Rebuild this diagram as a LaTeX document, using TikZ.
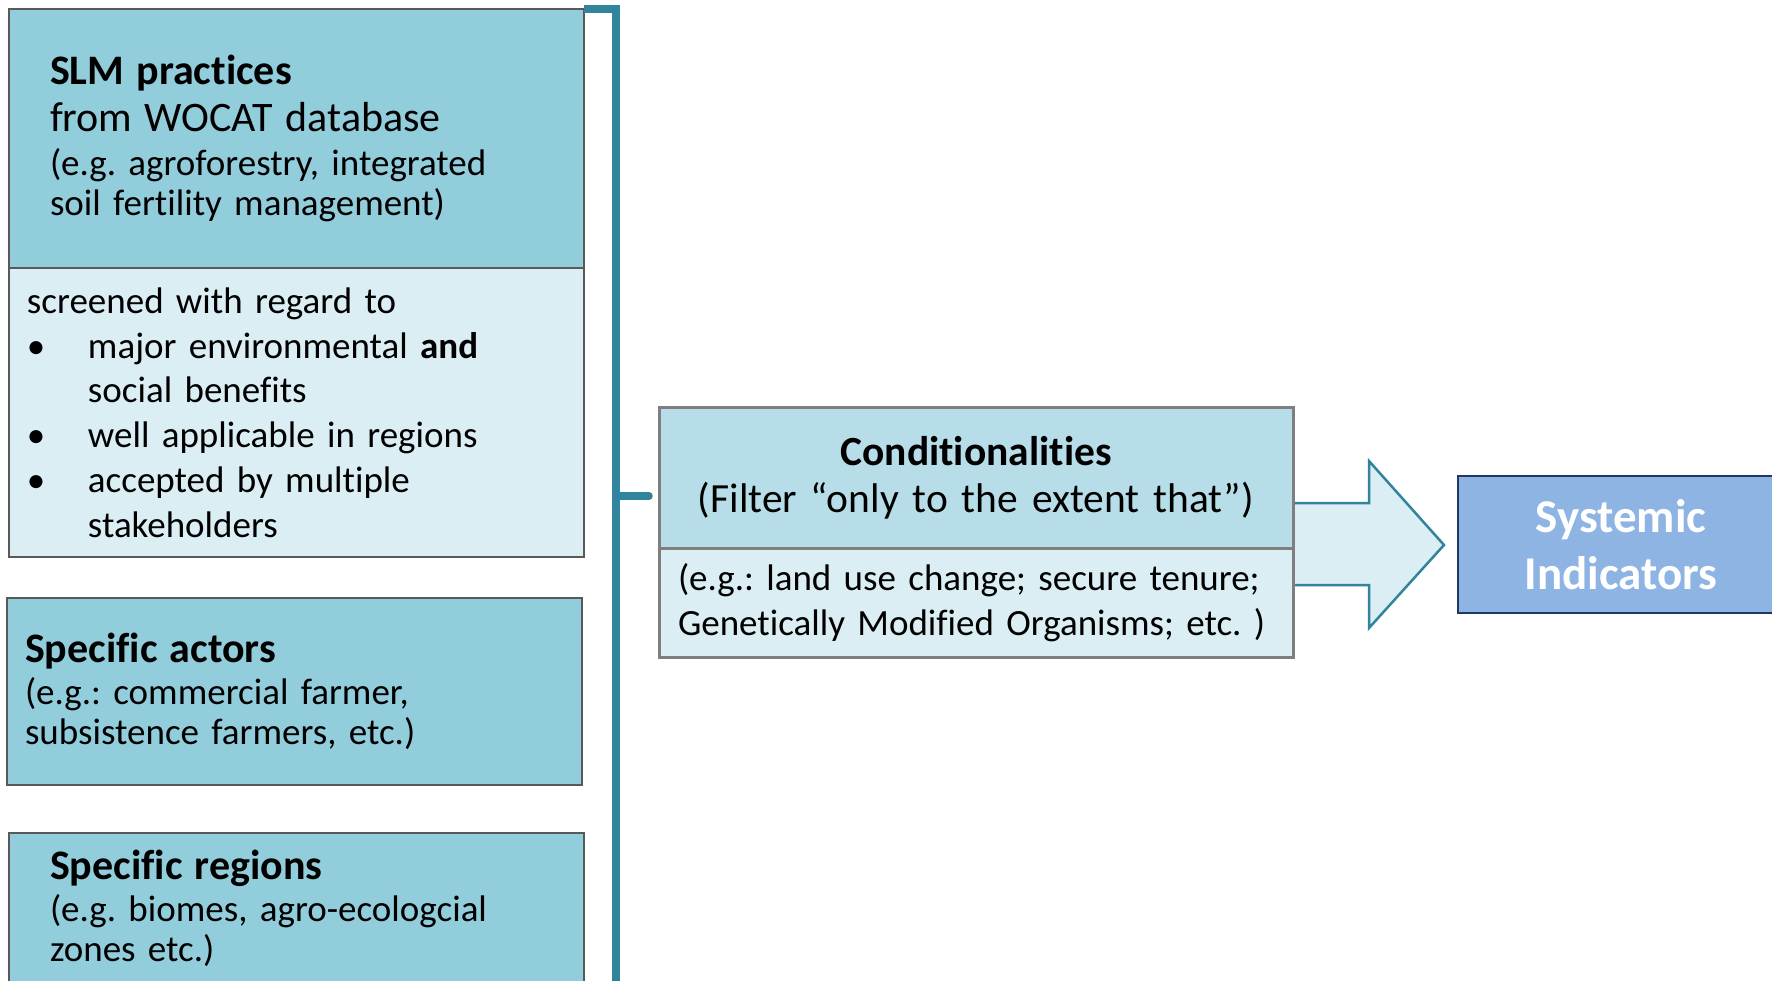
\documentclass[tikz,border=0pt]{standalone}
\usepackage{fontspec}
\setmainfont{Carlito}[Ligatures=NoCommon]
\usetikzlibrary{positioning}
\definecolor{slmblue}{RGB}{146,205,220}
\definecolor{paleblue}{RGB}{218,238,243}
\definecolor{condblue}{RGB}{183,222,232}
\definecolor{sysblue}{RGB}{142,180,227}
\definecolor{sysborder}{RGB}{31,56,100}
\definecolor{slmgray}{RGB}{89,89,89}
\definecolor{condgray}{RGB}{127,127,127}
\definecolor{teal}{RGB}{49,132,155}
\frenchspacing

\begin{document}
\begin{tikzpicture}[x=1pt, y=-1pt,
        headbox/.style={rectangle, draw=slmgray, fill=slmblue, line width=2.5pt, outer sep=0pt, minimum width=575pt, text width=493pt, inner xsep=41pt, align=left, font=\fontsize{37}{40}\selectfont},
        actorbox/.style={headbox, text width=539pt, inner xsep=18pt},
        listbox/.style={rectangle, draw=slmgray, fill=paleblue, line width=2.5pt, outer sep=0pt, minimum width=575pt, text width=539pt, inner xsep=18pt, align=left, font=\fontsize{37}{44.8}\selectfont},
        condbox/.style={rectangle, draw=condgray, fill=condblue, line width=3pt, outer sep=0pt, minimum width=634pt, text width=600pt, inner xsep=17pt, align=center, font=\fontsize{41.5}{47}\selectfont},
        examplebox/.style={condbox, fill=paleblue, text width=596pt, inner xsep=19pt, align=left, font=\fontsize{37}{45}\selectfont},
        sysbox/.style={rectangle, draw=sysborder, fill=sysblue, line width=2pt, outer sep=0pt, minimum width=326pt, text width=300pt, align=center, text=white, font=\fontsize{47}{57}\selectfont\bfseries},
        bracketline/.style={draw=teal, line width=7.5pt},
        filterarrow/.style={draw=teal, fill=paleblue, line width=2.5pt, line join=miter},
]
        \path[use as bounding box, fill=white] (0,0) rectangle (1772,980);
        \clip (0,0) rectangle (1772,980);

        % left column
        \node[headbox, anchor=north west, minimum height=259pt] (slm) at (9,9)
            {{\fontsize{42}{40}\selectfont\textbf{SLM practices}\\[7pt] from WOCAT database}\\[4pt]
             (e.g. agroforestry, integrated\\ soil fertility management)};
        \node[listbox, minimum height=289pt] (screening) [below=0pt of slm]
            {screened with regard to\\
             \makebox[61pt][l]{\textbullet}major environmental \textbf{and}\\
             \hspace*{61pt}social benefits\\
             \makebox[61pt][l]{\textbullet}well applicable in regions\\
             \makebox[61pt][l]{\textbullet}accepted by multiple\\
             \hspace*{61pt}stakeholders};
        \node[actorbox, minimum height=187pt] (actors) [below=41pt of screening, xshift=-2pt]
            {{\fontsize{42}{41}\selectfont\textbf{Specific actors}}\\[2pt]
             (e.g.: commercial farmer,\\ subsistence farmers, etc.)};
        \node[headbox, minimum height=150pt] (regions) [below=48pt of actors, xshift=2pt]
            {{\fontsize{42}{40}\selectfont\textbf{Specific regions}}\\[2pt]
             (e.g. biomes, agro-ecologcial\\ zones etc.)};

        % bracket joining the left column
        \coordinate (spinefoot) at (616,990);
        \coordinate (stub) at (616,496);
        \draw[bracketline] (slm.north east) -| (spinefoot);

        % filter and result
        \filldraw[filterarrow] (1280,503) -- (1369,503) -- (1369,461) -- (1444,545)
            -- (1369,628) -- (1369,585) -- (1280,585);
        \node[condbox, anchor=north west, minimum height=141pt] (cond) at (659,407)
            {\textbf{Conditionalities}\\ (Filter “only to the extent that”)};
        \node[examplebox, minimum height=109pt] (condexamples) [below=0pt of cond]
            {(e.g.: land use change; secure tenure;\\ Genetically Modified Organisms; etc. )};
        \node[sysbox, anchor=north west, minimum height=137pt] (system) at (1458,476)
            {Systemic\\ Indicators};

        \draw[bracketline, line cap=round, shorten >=10pt] (stub) -- (stub -| cond.west);
\end{tikzpicture}
\end{document}
